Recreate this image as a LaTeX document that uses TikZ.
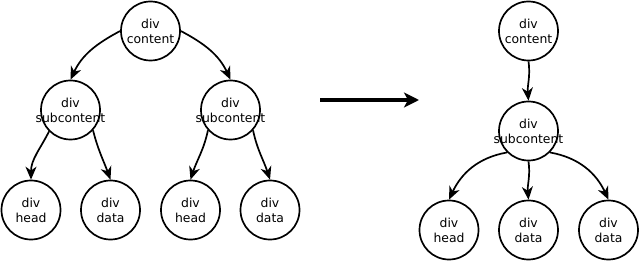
\documentclass[tikz,border=0pt]{standalone}
\usepackage{fontspec}
\setmainfont{DejaVu Sans}
\usetikzlibrary{arrows.meta}
\newcommand{\zw}[1]{\makebox[0pt]{#1}}
\begin{document}
\begin{tikzpicture}[x=1pt,y=-1pt,
  dom/.style={circle,draw,line width=1.7pt,minimum size=59pt,inner sep=0pt,align=center,
    font=\fontsize{12.4}{15}\selectfont},
  link/.style={line width=1.7pt,-{Stealth[length=13pt,width=11pt,inset=4pt]}},
  bigarrow/.style={line width=3.2pt,-{Stealth[length=15pt,width=15pt,inset=4pt]}}]
\useasboundingbox (0,0) rectangle (641,262);
% left tree
\node[dom] (c1) at (150.5,31) {\zw{div}\\\zw{content}};
\node[dom] (s1) at (70.5,110) {\zw{div}\\\zw{subcontent}};
\node[dom] (s2) at (230.5,110) {\zw{div}\\\zw{subcontent}};
\node[dom] (h1) at (31,210) {\zw{div}\\\zw{head}};
\node[dom] (d1) at (110.5,210) {\zw{div}\\\zw{data}};
\node[dom] (h2) at (190.5,210) {\zw{div}\\\zw{head}};
\node[dom] (d2) at (270,210) {\zw{div}\\\zw{data}};
\draw[link] (c1.west) to[out=208,in=65] (s1.north);
\draw[link] (c1.east) to[out=-28,in=115] (s2.north);
\draw[link] (s1.225) to[out=243,in=90] (h1.north);
\draw[link] (s1.318) to[out=-76,in=110] (d1.north);
\draw[link] (s2.222) to[out=-102,in=72] (h2.north);
\draw[link] (s2.318) to[out=-78,in=108] (d2.north);
% transform arrow
\coordinate (a0) at (320,100);
\coordinate (a1) at (419,100);
\draw[bigarrow] (a0) -- (a1);
% right tree
\node[dom] (c3) at (528.5,31) {\zw{div}\\\zw{content}};
\node[dom] (s3) at (528.5,131) {\zw{div}\\\zw{subcontent}};
\node[dom] (h3) at (449,230) {\zw{div}\\\zw{head}};
\node[dom] (d3) at (528.5,230) {\zw{div}\\\zw{data}};
\node[dom] (d4) at (608.5,230) {\zw{div}\\\zw{data}};
\draw[link] (c3.south) to[out=-82,in=95] (s3.north);
\draw[link] (s3.225) to[out=190,in=65] (h3.north);
\draw[link] (s3.south) to[out=-82,in=95] (d3.north);
\draw[link] (s3.315) to[out=-10,in=115] (d4.north);
\end{tikzpicture}
\end{document}
